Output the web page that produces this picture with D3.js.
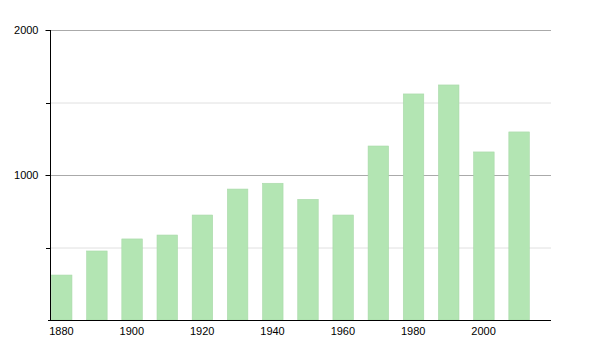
<!DOCTYPE html>
<html><head><meta charset="utf-8">
<script src="https://cdn.jsdelivr.net/npm/d3@7"></script>
<style>body{margin:0;background:#fff}svg{display:block}text{font-family:"Liberation Sans",Arial,sans-serif;font-size:11px;fill:#000}</style>
</head><body><svg id="c" width="600" height="350"></svg>
<script>
const years = [1880,1890,1900,1910,1920,1930,1940,1950,1960,1970,1980,1990,2000,2010];
const population = [310,476,559,586,724,903,943,832,724,1200,1559,1621,1159,1297];
const xTickLabels = [1880,1900,1920,1940,1960,1980,2000];
const yMajorTicks = [1000,2000];
const yMinorTicks = [500,1500];

const svg = d3.select("#c");
const x = d3.scaleLinear().domain([1876.9,2019.3]).range([50,551]);
const y = d3.scaleLinear().domain([0,2000]).range([320,30]);

// grid
svg.selectAll(".gmin").data(yMinorTicks).join("line")
  .attr("x1",50).attr("x2",551).attr("y1",d=>y(d)+0.5).attr("y2",d=>y(d)+0.5)
  .attr("stroke","#e0e0e0");
svg.selectAll(".gmaj").data(yMajorTicks).join("line")
  .attr("x1",50).attr("x2",551).attr("y1",d=>Math.round(y(d))+0.5).attr("y2",d=>Math.round(y(d))+0.5)
  .attr("stroke","#aaaaaa");

// bars
const bw = 20.5;
svg.selectAll(".bar").data(years).join("rect")
  .attr("x",(d)=>x(d)-bw/2+0.8).attr("width",bw)
  .attr("y",(d,i)=>y(population[i])).attr("height",(d,i)=>320-y(population[i]))
  .attr("fill","#b3e5b3").attr("stroke","#a9d9a9").attr("stroke-width",0.6);

// y axis
const yAxis = d3.axisLeft(y).tickValues(yMajorTicks.concat([0]).filter(d=>d>0)).tickSize(5).tickPadding(7).tickFormat(d3.format("d"));
const gy = svg.append("g").attr("transform","translate(50.5,0)").call(yAxis);
gy.select(".domain").remove();
gy.selectAll("line").attr("stroke","#000");
gy.selectAll("text").style("font-size","11px").attr("font-family",null);
svg.selectAll(".mt").data(yMinorTicks).join("line")
  .attr("x1",46).attr("x2",50.5).attr("y1",d=>Math.round(y(d))+0.5).attr("y2",d=>Math.round(y(d))+0.5)
  .attr("stroke","#000");
svg.append("line").attr("x1",50.5).attr("x2",50.5).attr("y1",30).attr("y2",320).attr("stroke","#000");

// x axis
const xAxis = d3.axisBottom(x).tickValues(xTickLabels).tickSize(0).tickPadding(7).tickFormat(d3.format("d"));
const gx = svg.append("g").attr("transform","translate(0,320.5)").call(xAxis);
gx.select(".domain").remove();
gx.selectAll("text").style("font-size","11px").attr("font-family",null);
svg.append("line").attr("x1",48).attr("x2",551).attr("y1",320.5).attr("y2",320.5).attr("stroke","#000");
</script></body></html>
